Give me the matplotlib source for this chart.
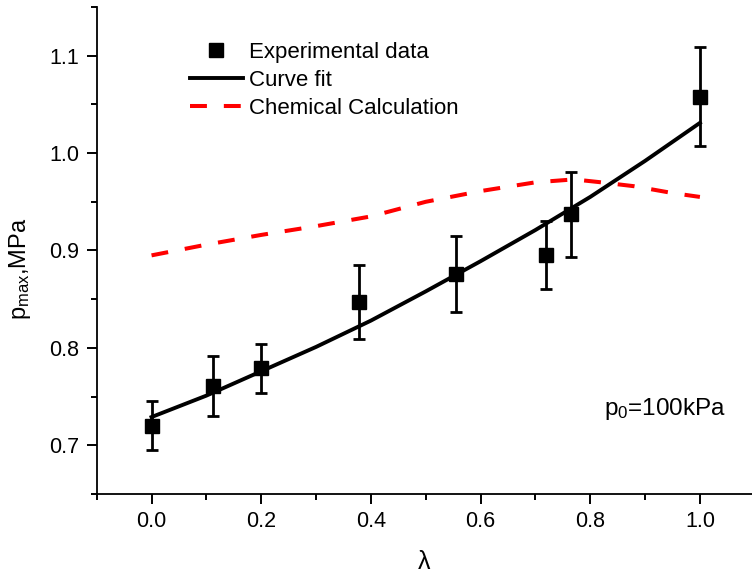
import numpy as np
import matplotlib
matplotlib.use('Agg')
import matplotlib.pyplot as plt
from matplotlib.ticker import MultipleLocator

plt.rcParams['font.family'] = ['Liberation Sans', 'DejaVu Sans']
plt.rcParams['mathtext.default'] = 'regular'

# experimental points
lam_exp = [0.0, 0.112, 0.2, 0.378, 0.555, 0.72, 0.765, 1.0]
p_exp = [0.720, 0.761, 0.779, 0.847, 0.876, 0.895, 0.937, 1.058]
p_err = [0.025, 0.031, 0.025, 0.038, 0.039, 0.035, 0.044, 0.051]

# curve fit
lam_fit = [0.0, 0.1, 0.2, 0.3, 0.4, 0.5, 0.6, 0.7, 0.8, 0.9, 1.0]
p_fit = [0.729, 0.751, 0.776, 0.801, 0.828, 0.858, 0.889, 0.921, 0.955, 0.992, 1.031]

# chemical calculation
lam_chem = [0.0, 0.1, 0.2, 0.3, 0.4, 0.5, 0.6, 0.7, 0.77, 0.82, 0.88, 0.95, 1.0]
p_chem = [0.895, 0.906, 0.916, 0.925, 0.935, 0.950, 0.961, 0.970, 0.973, 0.970, 0.966, 0.959, 0.955]

fig = plt.figure(figsize=(7.52, 5.8), dpi=100)
ax = fig.add_axes([96.7 / 752, 86 / 580, 1 - 96.7 / 752, 487 / 580])

ax.plot(lam_fit, p_fit, color='black', lw=2.8, label='Curve fit', zorder=3)
ax.plot(lam_chem, p_chem, color='#ff0000', lw=2.9, dashes=(4.2, 4.2),
        label='Chemical Calculation', zorder=2)
ax.errorbar(lam_exp, p_exp, yerr=p_err, fmt='none', ecolor='black',
            elinewidth=2, capsize=4.5, capthick=2, zorder=4)
ax.plot(lam_exp, p_exp, 's', color='black', ms=9.5, ls='none',
        label='Experimental data', zorder=5)

ax.set_xlim(-0.1, 1.095)
ax.set_ylim(0.65, 1.15)
ax.xaxis.set_major_locator(MultipleLocator(0.2))
ax.xaxis.set_minor_locator(MultipleLocator(0.1))
ax.yaxis.set_major_locator(MultipleLocator(0.1))
ax.yaxis.set_minor_locator(MultipleLocator(0.05))
ax.xaxis.set_major_formatter(plt.FormatStrFormatter('%.1f'))
ax.yaxis.set_major_formatter(plt.FormatStrFormatter('%.1f'))

for s in ['top', 'right']:
    ax.spines[s].set_visible(False)
for s in ['left', 'bottom']:
    ax.spines[s].set_linewidth(1.3)
ax.tick_params(which='major', direction='out', length=7.5, width=1.4,
               labelsize=15.5, pad=5)
ax.tick_params(which='minor', direction='out', length=4, width=1.4)

ax.set_xlabel('λ', fontsize=18)
ax.xaxis.set_label_coords(0.5, -0.115)
ax.set_ylabel('$p_{max}$,MPa', fontsize=17)
ax.yaxis.set_label_coords(-0.097, 0.462)

ax.text(0.825, 0.737, '$p_0$=100kPa', fontsize=17.5, va='center', ha='left')

handles, labels = ax.get_legend_handles_labels()
order = [2, 0, 1]
ax.legend([handles[i] for i in order], [labels[i] for i in order],
          loc='upper left', bbox_to_anchor=(0.142, 0.929), frameon=False,
          fontsize=16, borderpad=0, borderaxespad=0, handlelength=2.4,
          handletextpad=0.25, labelspacing=0.32)

fig.savefig('out.png', dpi=100)
